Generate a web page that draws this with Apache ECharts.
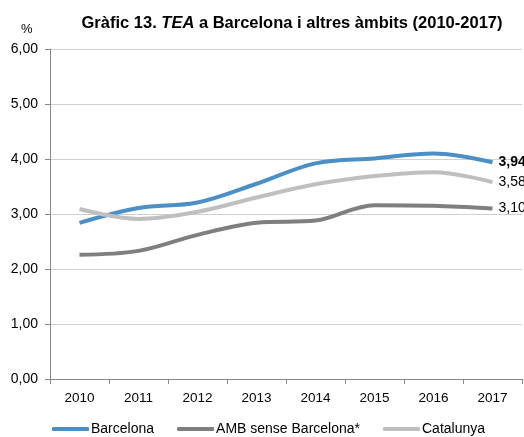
<!DOCTYPE html>
<html>
<head>
<meta charset="utf-8">
<script src="https://cdn.jsdelivr.net/npm/echarts@6/dist/echarts.min.js"></script>
<style>
  html, body { margin: 0; padding: 0; background: #fff; }
  #chart { width: 524px; height: 437px; }
</style>
</head>
<body>
<div id="chart"></div>
<script>
var anys = ["2010", "2011", "2012", "2013", "2014", "2015", "2016", "2017"];
var barcelona = [2.84, 3.11, 3.21, 3.55, 3.92, 4.01, 4.10, 3.94];
var amb = [2.26, 2.33, 2.62, 2.84, 2.88, 3.16, 3.15, 3.10];
var catalunya = [3.09, 2.91, 3.04, 3.30, 3.54, 3.69, 3.76, 3.58];

var font = "'Liberation Sans', Arial, sans-serif";

function coma(v) {
  return v.toFixed(2).replace('.', ',');
}

var myChart = echarts.init(document.getElementById('chart'));

function linia(nom, dades, color, negreta) {
  return {
    name: nom,
    type: 'line',
    smooth: 0.35,
    symbol: 'none',
    data: dades,
    lineStyle: { color: color, width: 4 },
    itemStyle: { color: color },
    endLabel: {
      show: true,
      distance: 6,
      color: '#000',
      fontFamily: font,
      fontSize: 14,
      fontWeight: negreta ? 'bold' : 'normal',
      formatter: function (p) { return coma(p.value); }
    }
  };
}

var option = {
  animation: false,
  textStyle: { fontFamily: font },
  title: [
    {
      text: "Gràfic 13. {i|TEA} a Barcelona i altres àmbits (2010-2017)",
      left: 287,
      top: 10,
      textAlign: 'center',
      textStyle: {
        fontFamily: font,
        fontSize: 16.5,
        fontWeight: 'bold',
        color: '#000',
        rich: {
          i: { fontFamily: font, fontSize: 16.5, fontWeight: 'bold', fontStyle: 'italic', color: '#000' }
        }
      }
    },
    {
      text: '%',
      left: 16,
      top: 18,
      textStyle: { fontFamily: font, fontSize: 13, fontWeight: 'normal', color: '#000' }
    }
  ],
  grid: { left: 50, right: 2, top: 49, bottom: 58 },
  legend: {
    top: 417,
    left: 47,
    icon: 'roundRect',
    itemWidth: 37,
    itemHeight: 4,
    itemGap: 23,
    textStyle: { fontFamily: font, fontSize: 14, color: '#000', padding: [0, 0, 0, -3] },
    data: ['Barcelona', 'AMB sense Barcelona*', 'Catalunya']
  },
  xAxis: {
    type: 'category',
    data: anys,
    boundaryGap: true,
    axisLine: { lineStyle: { color: '#868686' } },
    axisTick: { show: true, length: 5, lineStyle: { color: '#868686' } },
    axisLabel: { color: '#000', fontSize: 13.5, margin: 12, fontFamily: font }
  },
  yAxis: {
    type: 'value',
    min: 0,
    max: 6,
    interval: 1,
    axisLine: { show: true, lineStyle: { color: '#868686' } },
    axisTick: { show: true, length: 5, lineStyle: { color: '#868686' } },
    axisLabel: { color: '#000', fontSize: 14, margin: 12, fontFamily: font, formatter: coma },
    splitLine: { lineStyle: { color: '#d0d0d0' } }
  },
  series: [
    linia('Barcelona', barcelona, '#4a8fc6', true),
    linia('AMB sense Barcelona*', amb, '#7f7f7f', false),
    linia('Catalunya', catalunya, '#bfbfbf', false)
  ]
};

myChart.setOption(option);
window.addEventListener('resize', function () {
  myChart.resize();
});
</script>
</body>
</html>
